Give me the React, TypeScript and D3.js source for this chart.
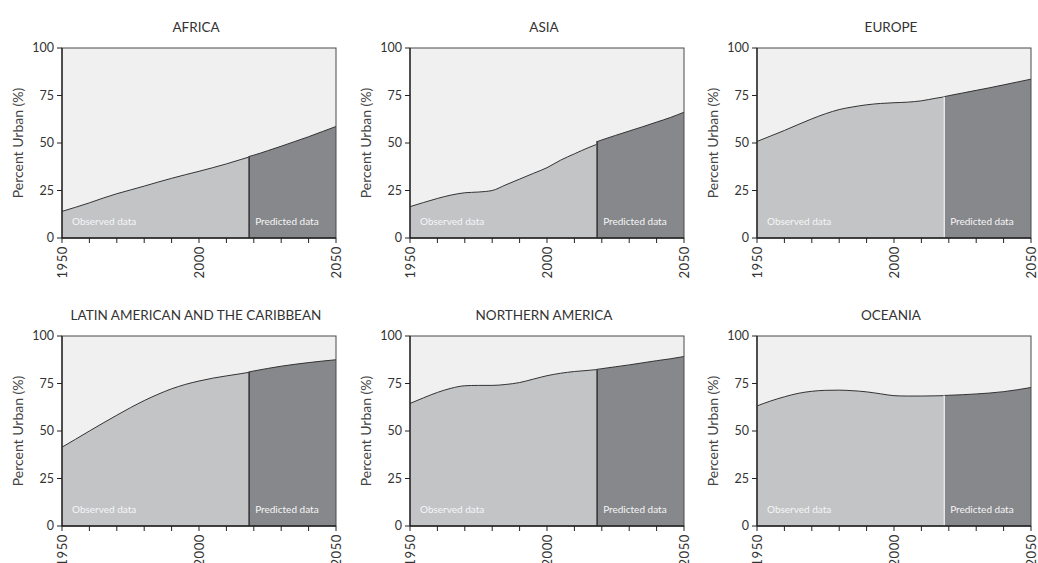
import React from "react";
import * as d3 from "d3";

const regions = ["AFRICA", "ASIA", "EUROPE", "LATIN AMERICAN AND THE CARIBBEAN", "NORTHERN AMERICA", "OCEANIA"];

const yearsObserved = [1950, 1955, 1960, 1965, 1970, 1975, 1980, 1985, 1990, 1995, 2000, 2005, 2010, 2015, 2018];
const yearsPredicted = [2018, 2020, 2025, 2030, 2035, 2040, 2045, 2050];

const africaObserved = [14, 16.2, 18.5, 21, 23.3, 25.3, 27.3, 29.4, 31.4, 33.3, 35.1, 37, 39, 41.2, 42.5];
const africaPredicted = [42.8, 43.6, 45.9, 48.3, 50.8, 53.3, 56, 58.7];
const asiaObserved = [16.5, 18.7, 20.8, 22.6, 23.8, 24.2, 25, 28, 31, 34, 37, 41, 44.3, 47.5, 49.2];
const asiaPredicted = [50.6, 51.6, 54, 56.3, 58.6, 61, 63.4, 66.2];
const europeObserved = [50.8, 53.7, 56.6, 59.7, 62.7, 65.4, 67.6, 69, 70.1, 70.8, 71.2, 71.5, 72.2, 73.5, 74.2];
const europePredicted = [74.3, 74.9, 76.3, 77.7, 79.1, 80.6, 82.1, 83.6];
const latamObserved = [41.5, 45.7, 50, 54.2, 58.3, 62.3, 66, 69.3, 72.2, 74.5, 76.3, 77.8, 79, 80.1, 80.8];
const latamPredicted = [81, 81.6, 82.9, 84.1, 85.1, 86, 86.8, 87.5];
const northAmObserved = [64.5, 67.5, 70.3, 72.5, 73.8, 74, 74, 74.5, 75.5, 77.3, 79.1, 80.4, 81.3, 81.9, 82.3];
const northAmPredicted = [82.4, 82.8, 83.8, 84.8, 85.9, 87, 88, 89.2];
const oceaniaObserved = [63.2, 65.8, 68, 69.8, 70.9, 71.4, 71.5, 71.2, 70.6, 69.6, 68.6, 68.4, 68.4, 68.5, 68.6];
const oceaniaPredicted = [68.7, 68.8, 69.1, 69.5, 70, 70.7, 71.7, 72.9];

const observedSeries = [africaObserved, asiaObserved, europeObserved, latamObserved, northAmObserved, oceaniaObserved];
const predictedSeries = [africaPredicted, asiaPredicted, europePredicted, latamPredicted, northAmPredicted, oceaniaPredicted];

const yTicks = [0, 25, 50, 75, 100];
const xTicks = [1950, 1960, 1970, 1980, 1990, 2000, 2010, 2020, 2030, 2040, 2050];
const xLabels = [1950, 2000, 2050];
const splitYear = 2018.3;

// layout / style
const W = 1038;
const H = 563;
const colLeft = [62, 410, 757];
const rowTop = [48, 336];
const plotW = 274;
const plotH = 190;
const dividerColors = ["#2b2b2b", "#2b2b2b", "#ffffff", "#2b2b2b", "#2b2b2b", "#ffffff"];
const FONT = "Lato, 'Open Sans', sans-serif";
const C_BG = "#f0f0f0";
const C_OBS = "#c2c4c6";
const C_PRED = "#87888b";
const C_TEXT = "#333333";

function Panel({ i }: { i: number }) {
  const left = colLeft[i % 3];
  const top = rowTop[Math.floor(i / 3)];
  const x = d3.scaleLinear().domain([1950, 2050]).range([left, left + plotW]);
  const y = d3.scaleLinear().domain([0, 100]).range([top + plotH, top]);
  const obs = yearsObserved.map((yr, k) => [yr, observedSeries[i][k]] as [number, number]);
  const pred = yearsPredicted.map((yr, k) => [yr, predictedSeries[i][k]] as [number, number]);
  const area = d3
    .area<[number, number]>()
    .x((d) => x(d[0]))
    .y0(y(0))
    .y1((d) => y(d[1]))
    .curve(d3.curveMonotoneX);
  const line = d3
    .line<[number, number]>()
    .x((d) => x(d[0]))
    .y((d) => y(d[1]))
    .curve(d3.curveMonotoneX);
  const bottom = y(0);
  const xs = x(splitYear);
  return (
    <g>
      <text x={left + plotW / 2 - 3} y={top - 16} textAnchor="middle" fontSize={13.5} fill={C_TEXT} fontFamily={FONT}>
        {regions[i]}
      </text>
      <rect x={left} y={top} width={plotW} height={plotH} fill={C_BG} />
      <path d={area(obs) || ""} fill={C_OBS} />
      <path d={area(pred) || ""} fill={C_PRED} />
      <path d={line(obs) || ""} fill="none" stroke="#333" strokeWidth={1} />
      <path d={line(pred) || ""} fill="none" stroke="#333" strokeWidth={1} />
      <line x1={xs} x2={xs} y1={y(pred[0][1])} y2={bottom} stroke={dividerColors[i]} strokeWidth={1.3} />
      <text x={left + 10} y={bottom - 13} fontSize={10} fill="#f6f6f6" fontFamily={FONT}>
        Observed data
      </text>
      <text x={xs + 6} y={bottom - 13} fontSize={10} fill="#f6f6f6" fontFamily={FONT}>
        Predicted data
      </text>
      <rect x={left} y={top} width={plotW} height={plotH} fill="none" stroke="#4a4a4a" strokeWidth={1} />
      <line x1={left} x2={left} y1={top} y2={bottom} stroke="#222" strokeWidth={1.3} />
      <line x1={left} x2={left + plotW} y1={bottom} y2={bottom} stroke="#222" strokeWidth={1.3} />
      {yTicks.map((t) => (
        <g key={"y" + t}>
          <line x1={left - 5} x2={left} y1={y(t)} y2={y(t)} stroke="#222" strokeWidth={1} />
          <text x={left - 8} y={y(t)} dy="0.35em" textAnchor="end" fontSize={12.5} fill={C_TEXT} fontFamily={FONT}>
            {t}
          </text>
        </g>
      ))}
      {xTicks.map((t) => (
        <line key={"x" + t} x1={x(t)} x2={x(t)} y1={bottom} y2={bottom + 5} stroke="#222" strokeWidth={1} />
      ))}
      {xLabels.map((t) => (
        <text
          key={"xl" + t}
          transform={`translate(${x(t)},${bottom + 8}) rotate(-90)`}
          textAnchor="end"
          dy="0.35em"
          fontSize={13}
          letterSpacing={0.6}
          fill={C_TEXT}
          fontFamily={FONT}
        >
          {t}
        </text>
      ))}
      <text
        transform={`translate(${left - 44},${top + plotH / 2}) rotate(-90)`}
        textAnchor="middle"
        dy="0.35em"
        fontSize={14}
        fill="#444"
        fontFamily={FONT}
      >
        Percent Urban (%)
      </text>
    </g>
  );
}

export default function App() {
  return (
    <svg
      width={W}
      height={H}
      viewBox={`0 0 ${W} ${H}`}
      style={{ position: "absolute", left: 0, top: 0, background: "#ffffff" }}
    >
      <rect x={0} y={0} width={W} height={H} fill="#ffffff" />
      {regions.map((r, i) => (
        <Panel key={r} i={i} />
      ))}
    </svg>
  );
}
